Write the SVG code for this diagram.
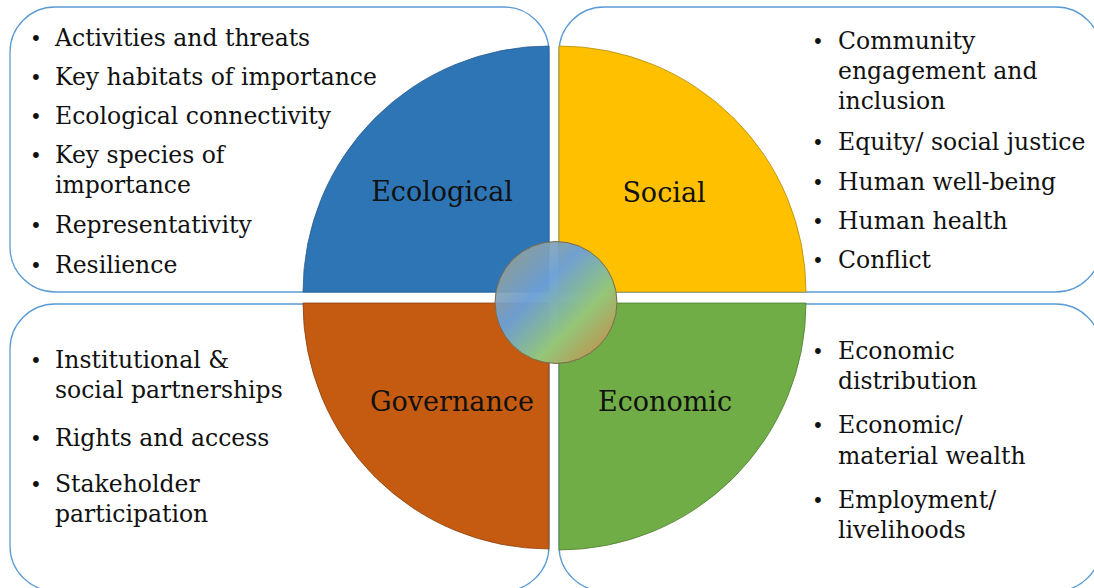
<svg xmlns="http://www.w3.org/2000/svg" width="1094" height="588" viewBox="0 0 1094 588">
  <style>
    .box { fill: #ffffff; stroke: #5b9bd5; stroke-width: 1.3; }
    .item { font-family: "DejaVu Serif", "Liberation Serif", serif; font-size: 23.5px; fill: #111111; }
    .dot { font-family: "DejaVu Serif", "Liberation Serif", serif; font-size: 20px; fill: #111111; }
    .label { font-family: "DejaVu Serif", "Liberation Serif", serif; font-size: 27px; fill: #111111; text-anchor: middle; }
  </style>
  <defs>
    <linearGradient id="hubFill" x1="0" y1="0" x2="1" y2="1">
      <stop offset="0" stop-color="#a8a47c" stop-opacity="0.85"/>
      <stop offset="0.38" stop-color="#6a9fd8" stop-opacity="0.96"/>
      <stop offset="0.66" stop-color="#94c679"/>
      <stop offset="1" stop-color="#cc8140"/>
    </linearGradient>
  </defs>
  <rect width="1094" height="588" fill="#ffffff"/>

  <!-- rounded panels holding the bullet lists -->
  <g id="panel-ecological"><rect class="box" x="10" y="7" width="539" height="285" rx="45"/></g>
  <g id="panel-social"><rect class="box" x="559" y="7" width="542" height="285" rx="45"/></g>
  <g id="panel-governance"><rect class="box" x="10" y="304" width="539" height="287" rx="45"/></g>
  <g id="panel-economic"><rect class="box" x="559" y="304" width="542" height="287" rx="45"/></g>

  <!-- quadrants -->
  <g id="ecological">
    <path d="M549,292 L303,292 A246,246 0 0 1 549,46 Z" fill="#2e75b6" stroke="#2a5d8f" stroke-width="0.8"/>
    <text class="label" x="442" y="201">Ecological</text>
  </g>
  <g id="social">
    <path d="M559,292 L559,46 A247,246 0 0 1 806,292 Z" fill="#ffc000" stroke="#b08a10" stroke-width="0.8"/>
    <text class="label" x="664" y="202">Social</text>
  </g>
  <g id="governance">
    <path d="M549,303 L549,549 A246,246 0 0 1 303,303 Z" fill="#c55a11" stroke="#8a4212" stroke-width="0.8"/>
    <text class="label" x="452" y="411">Governance</text>
  </g>
  <g id="economic">
    <path d="M559,303 L806,303 A247,247 0 0 1 559,550 Z" fill="#70ad47" stroke="#507e34" stroke-width="0.8"/>
    <text class="label" x="665" y="411">Economic</text>
  </g>

  <!-- central hub -->
  <g id="hub">
    <circle cx="556" cy="302.5" r="61" fill="url(#hubFill)" stroke="#7a6a4a" stroke-width="1"/>
  </g>

  <!-- ecological indicators -->
  <g id="list-ecological" class="item">
    <text class="dot" x="30" y="46">•</text><text x="55" y="46">Activities and threats</text>
    <text class="dot" x="30" y="85">•</text><text x="55" y="85">Key habitats of importance</text>
    <text class="dot" x="30" y="124">•</text><text x="55" y="124">Ecological connectivity</text>
    <text class="dot" x="30" y="163">•</text><text x="55" y="163">Key species of</text>
    <text x="55" y="193">importance</text>
    <text class="dot" x="30" y="233">•</text><text x="55" y="233">Representativity</text>
    <text class="dot" x="30" y="273">•</text><text x="55" y="273">Resilience</text>
  </g>

  <!-- social indicators -->
  <g id="list-social" class="item">
    <text class="dot" x="812" y="49">•</text><text x="838" y="49">Community</text>
    <text x="838" y="79">engagement and</text>
    <text x="838" y="109">inclusion</text>
    <text class="dot" x="812" y="150">•</text><text x="838" y="150">Equity/ social justice</text>
    <text class="dot" x="812" y="190">•</text><text x="838" y="190">Human well-being</text>
    <text class="dot" x="812" y="229">•</text><text x="838" y="229">Human health</text>
    <text class="dot" x="812" y="268">•</text><text x="838" y="268">Conflict</text>
  </g>

  <!-- governance indicators -->
  <g id="list-governance" class="item">
    <text class="dot" x="30" y="368">•</text><text x="55" y="368">Institutional &amp;</text>
    <text x="55" y="398">social partnerships</text>
    <text class="dot" x="30" y="446">•</text><text x="55" y="446">Rights and access</text>
    <text class="dot" x="30" y="492">•</text><text x="55" y="492">Stakeholder</text>
    <text x="55" y="522">participation</text>
  </g>

  <!-- economic indicators -->
  <g id="list-economic" class="item">
    <text class="dot" x="812" y="359">•</text><text x="838" y="359">Economic</text>
    <text x="838" y="389">distribution</text>
    <text class="dot" x="812" y="433">•</text><text x="838" y="433">Economic/</text>
    <text x="838" y="464">material wealth</text>
    <text class="dot" x="812" y="508">•</text><text x="838" y="508">Employment/</text>
    <text x="838" y="538">livelihoods</text>
  </g>
</svg>
